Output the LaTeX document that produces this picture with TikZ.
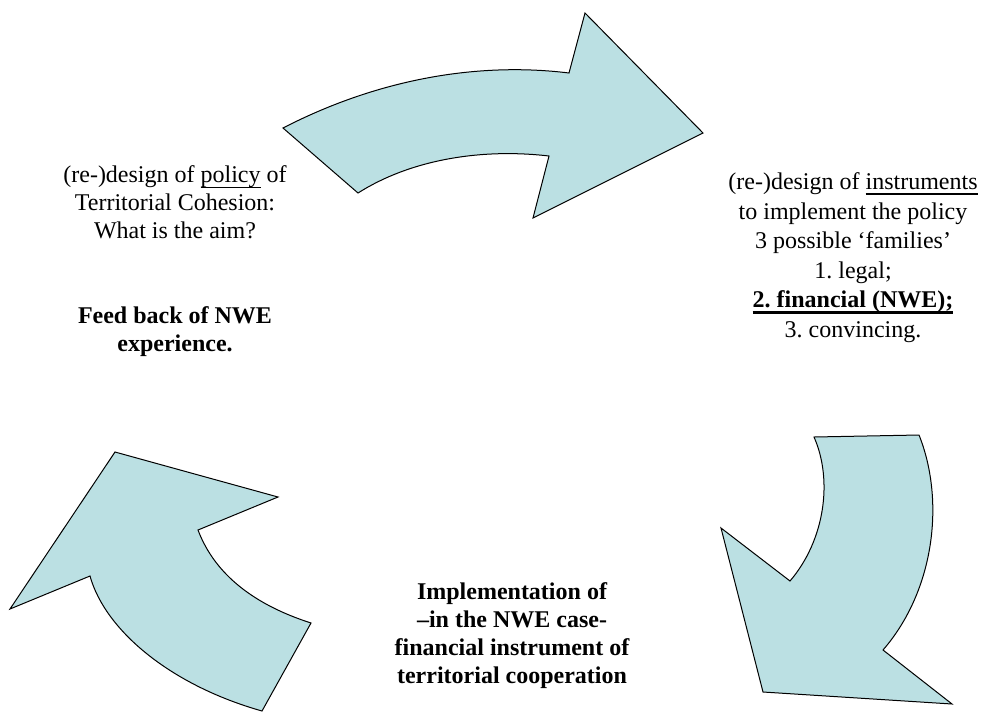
\documentclass[tikz,border=0pt]{standalone}
\usepackage{fontspec}
\setmainfont{Liberation Serif}
\frenchspacing
\definecolor{arrowfill}{RGB}{187,224,227}
\tikzset{
  bigarrow/.style={draw=black, fill=arrowfill, line width=1pt, line join=miter},
  % multi-line captions; the base anchor sits on the baseline of the last line
  captext/.style={align=center, inner sep=0pt, anchor=base, text=black},
}
% underline: #1 = offset below baseline, #2 = rule thickness, #3 = text
\newcommand{\rulerline}[3]{{\sbox0{#3}\leavevmode\rlap{\rule[-#1]{\wd0}{#2}}\usebox0}}
\newcommand{\thinul}[1]{\rulerline{5pt}{1.3pt}{#1}}
\newcommand{\thickul}[1]{\rulerline{6pt}{2.2pt}{#1}}
\begin{document}
\begin{tikzpicture}[x=1pt, y=-1pt]
  \useasboundingbox (0,0) rectangle (984,713);

  % upper arrow: policy -> instruments
  \draw[bigarrow] (283,128) .. controls (380,78) and (480,62) .. (569,73)
    -- (585,13) -- (703,133) -- (533,218) -- (549,156)
    .. controls (480,148) and (410,160) .. (358,193) -- cycle;

  % right arrow: instruments -> implementation
  \draw[bigarrow] (814,437) -- (919,435)
    .. controls (945,500) and (935,590) .. (883,650)
    -- (952,704) -- (763,692) -- (721,528) -- (790,581)
    .. controls (825,540) and (833,480) .. (814,437) -- cycle;

  % left arrow: implementation -> feedback
  \draw[bigarrow] (115,452) -- (278,497) -- (198,530)
    .. controls (215,575) and (255,605) .. (311,623)
    -- (262,711)
    .. controls (170,685) and (105,630) .. (90,576)
    -- (10,609) -- cycle;

  % texts
  \node[captext, font=\fontsize{24}{27.6}\selectfont] (policy) at (175,238)
    {(re-)design of \thinul{policy} of\\Territorial Cohesion:\\What is the aim?};
  \node[captext, font=\fontsize{24}{27.6}\selectfont\bfseries] (feedback) at (175,351)
    {Feed back of NWE\\experience.};
  \node[captext, font=\fontsize{24}{29.5}\selectfont] (instr) at (853,337)
    {(re-)design of \thinul{instruments}\\to implement the policy\\3 possible ‘families’\\1. legal;\\\thickul{\textbf{2. financial (NWE);}}\\3. convincing.};
  \node[captext, font=\fontsize{24}{27.7}\selectfont\bfseries] (impl) at (512,683)
    {Implementation of\\–in the NWE case-\\financial instrument of\\territorial cooperation};
\end{tikzpicture}
\end{document}
